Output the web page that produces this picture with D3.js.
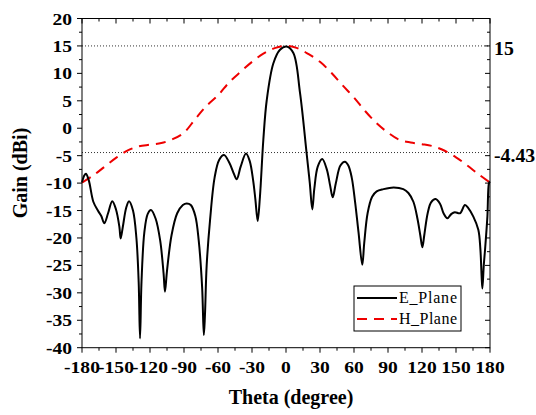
<!DOCTYPE html>
<html>
<head>
<meta charset="utf-8">
<script src="https://cdn.jsdelivr.net/npm/d3@7"></script>
<style>
  body { margin: 0; background: #fff; }
  svg text { font-family: "Liberation Serif", "Times New Roman", serif; }
</style>
</head>
<body>
<svg class="chart"></svg>
<script>
const size = {w: 536, h: 415};
const margin = {top: 18.5, right: 46, bottom: 67.3, left: 82};

// E plane (black solid)
const eTheta = [-180, -178, -176.5, -174, -170, -166, -163, -160.3, -157, -153.3, -150, -147, -145.9, -144, -141, -138.5,
  -135, -132, -130, -128.8, -127.5, -125, -122, -119.1, -115, -111, -108, -106.8, -105, -101, -96, -91, -87.6, -84,
  -80, -77, -74, -72.5, -71.5, -70, -67, -63, -59, -54.7, -50, -46, -43.5, -40, -35.3, -32, -29, -27, -25, -23,
  -20, -17, -11.2, -5.3, 0.5, 6.5, 12.4, 18.2, 21, 23.2, 25, 28, 32, 36, 39, 41.2, 44, 48, 52, 55, 58, 61, 64,
  67.3, 69, 72, 76, 80, 86, 95, 103.5, 108, 112.4, 116, 118.5, 120.3, 122, 125, 128, 132, 136, 139, 142.4, 146,
  149, 153.5, 157.9, 161, 165.3, 169.7, 171.5, 172.6, 173.3, 174.5, 175.6, 177.7, 179.1, 180];
const eGain = [-9.9, -8.6, -8.3, -9.5, -13.4, -15.0, -16.0, -17.3, -15.5, -13.3, -14.8, -18, -20.1, -18, -14.5, -13.3,
  -15, -20, -28, -38.3, -28, -19, -15.6, -14.9, -16.5, -20.5, -26.5, -29.8, -26, -19.5, -15.5, -14, -13.7, -14,
  -16, -20.5, -29, -37.7, -34, -25, -16.7, -9, -5.8, -4.9, -6.3, -8.3, -9.3, -7, -4.6, -6, -9.5, -13, -16.9, -12.5,
  -2.1, 5.1, 11.8, 14.3, 14.9, 13.7, 6.4, -4.6, -10, -14.8, -11, -7, -5.6, -7.5, -10.5, -12.6, -10, -6.8, -6.1, -6.8, -9, -13.5, -19,
  -24.9, -21, -15.5, -12.5, -11.5, -11.1, -10.8, -11.1, -11.8, -13.4, -16.5, -19.5, -21.7, -19.5, -15.5, -13.5, -12.9, -13.8, -15.5, -16.4, -15.6,
  -15.3, -15.5, -14, -14.6, -16.1, -18.5, -22, -27, -29.2, -25, -22.2, -16.1, -10, -9.7];

// H plane (red dashed)
const hTheta = [-180, -170, -160, -150, -140, -130, -120, -110, -100, -90, -80, -70, -60, -50, -40, -30, -20, -10, 0,
  10, 20, 30, 40, 50, 60, 70, 80, 90, 100, 110, 120, 130, 140, 150, 160, 170, 180];
const hGain = [-9.9, -8.6, -7.0, -5.4, -4.1, -3.3, -3.0, -2.7, -2.0, -0.8, 1.7, 4.1, 6.0, 8.4, 10.3, 12.1, 13.6, 14.6, 15,
  14.6, 13.5, 12.1, 10.1, 7.8, 5.6, 3.1, 0.9, -0.8, -2.1, -2.6, -2.9, -3.3, -4.1, -5.3, -6.8, -8.4, -9.9];

const xTicks = [-180, -150, -120, -90, -60, -30, 0, 30, 60, 90, 120, 150, 180];
const yTicks = [-40, -35, -30, -25, -20, -15, -10, -5, 0, 5, 10, 15, 20];
const refLevels = [15, -4.43];
const refLabels = ['15', '-4.43'];
const seriesNames = ['E_Plane', 'H_Plane'];

const svg = d3.select('svg.chart').attr('width', size.w).attr('height', size.h);

const x = d3.scaleLinear().domain([-180, 180]).range([margin.left, size.w - margin.right]);
const y = d3.scaleLinear().domain([-40, 20]).range([size.h - margin.bottom, margin.top]);

const x0 = x.range()[0], x1 = x.range()[1], y0 = y.range()[0], y1 = y.range()[1];

// reference dotted lines
svg.selectAll('line.ref')
  .data(refLevels)
  .join('line')
  .classed('ref', true)
  .attr('x1', x0).attr('x2', x1)
  .attr('y1', d => y(d)).attr('y2', d => y(d))
  .attr('stroke', '#333')
  .attr('stroke-width', 1)
  .attr('stroke-dasharray', '1,2');

svg.selectAll('g.ref')
  .data(refLevels)
  .join('g')
  .classed('ref', true)
  .attr('transform', d => `translate(${x1 + 4},${y(d) + 9})`)
  .append('text')
  .attr('transform', 'scale(1.1,1)')
  .attr('font-size', 18)
  .attr('font-weight', 'bold')
  .text((d, i) => refLabels[i]);

// axes
const minorX = d3.range(-180, 181, 15);
const minorY = d3.range(-40, 20.1, 2.5);

function tickLen(v, step) { return v % step === 0 ? 5 : 3; }

const axes = svg.append('g').attr('stroke', '#000').attr('stroke-width', 1);
// bottom, outward
axes.selectAll('line.bx').data(minorX).join('line').classed('bx', true)
  .attr('x1', d => x(d)).attr('x2', d => x(d))
  .attr('y1', y0).attr('y2', d => y0 + tickLen(d, 30));
// top, inward
axes.selectAll('line.tx').data(minorX).join('line').classed('tx', true)
  .attr('x1', d => x(d)).attr('x2', d => x(d))
  .attr('y1', y1).attr('y2', d => y1 + tickLen(d, 30));
// left, outward
axes.selectAll('line.ly').data(minorY).join('line').classed('ly', true)
  .attr('y1', d => y(d)).attr('y2', d => y(d))
  .attr('x1', x0).attr('x2', d => x0 - tickLen(d, 5));
// right, inward
axes.selectAll('line.ry').data(minorY).join('line').classed('ry', true)
  .attr('y1', d => y(d)).attr('y2', d => y(d))
  .attr('x1', x1).attr('x2', d => x1 - tickLen(d, 5));

svg.append('rect')
  .attr('x', x0).attr('y', y1)
  .attr('width', x1 - x0).attr('height', y0 - y1)
  .attr('fill', 'none').attr('stroke', '#000').attr('stroke-width', 1);

// tick labels, a bit wider than plain Times
svg.selectAll('g.xt').data(xTicks).join('g').classed('xt', true)
  .attr('transform', d => `translate(${x(d)},${y0 + 25})`)
  .append('text')
  .attr('transform', 'scale(1.15,1)')
  .attr('text-anchor', 'middle')
  .attr('font-size', 17).attr('font-weight', 'bold')
  .text(d => d);

svg.selectAll('g.yt').data(yTicks).join('g').classed('yt', true)
  .attr('transform', d => `translate(${x0 - 10},${y(d) + 6})`)
  .append('text')
  .attr('transform', 'scale(1.15,1)')
  .attr('text-anchor', 'end')
  .attr('font-size', 17).attr('font-weight', 'bold')
  .text(d => d);

svg.append('text')
  .attr('x', 291).attr('y', 404)
  .attr('text-anchor', 'middle')
  .attr('font-size', 20).attr('font-weight', 'bold')
  .text('Theta (degree)');

svg.append('text')
  .attr('transform', 'translate(27,173) rotate(-90)')
  .attr('text-anchor', 'middle')
  .attr('font-size', 20).attr('font-weight', 'bold')
  .text('Gain (dBi)');

// curves
const line = d3.line()
  .x(d => x(d[0]))
  .y(d => y(d[1]))
  .curve(d3.curveCatmullRom.alpha(0.5));

svg.append('path')
  .datum(d3.zip(hTheta, hGain))
  .attr('d', line)
  .attr('fill', 'none')
  .attr('stroke', '#ee0000')
  .attr('stroke-width', 2)
  .attr('stroke-dasharray', '10,7');

svg.append('path')
  .datum(d3.zip(eTheta, eGain))
  .attr('d', line)
  .attr('fill', 'none')
  .attr('stroke', '#000')
  .attr('stroke-width', 2)
  .attr('stroke-linejoin', 'round');

// legend
const lg = svg.append('g').attr('transform', 'translate(354,286)');
lg.append('rect')
  .attr('width', 107).attr('height', 45)
  .attr('fill', '#fff').attr('stroke', '#000').attr('stroke-width', 1);
const legendStyles = [{stroke: '#000', dash: null}, {stroke: '#ee0000', dash: '10,7'}];
lg.selectAll('line.leg').data(seriesNames).join('line').classed('leg', true)
  .attr('x1', 3).attr('x2', 43)
  .attr('y1', (d, i) => 12 + i * 21).attr('y2', (d, i) => 12 + i * 21)
  .attr('stroke', (d, i) => legendStyles[i].stroke)
  .attr('stroke-width', 2)
  .attr('stroke-dasharray', (d, i) => legendStyles[i].dash);
lg.selectAll('text.leg').data(seriesNames).join('text').classed('leg', true)
  .attr('x', 45).attr('y', (d, i) => 17 + i * 21)
  .attr('font-size', 16)
  .attr('textLength', 58)
  .text(d => d);
</script>
</body>
</html>
